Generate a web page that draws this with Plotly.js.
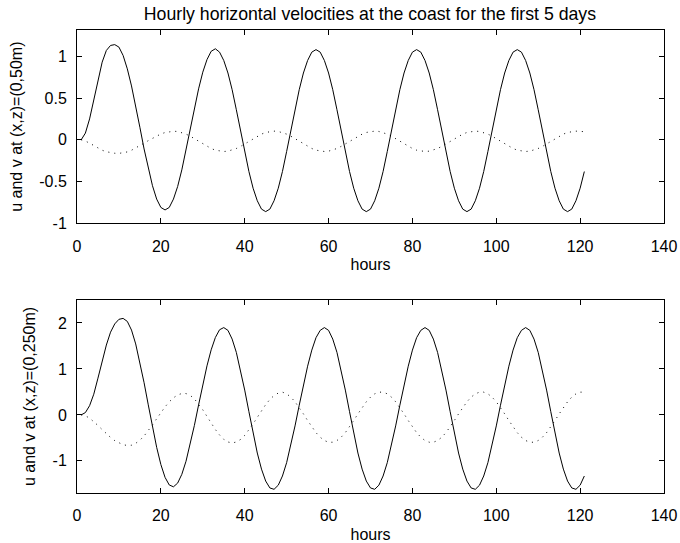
<!DOCTYPE html>
<html>
<head>
<meta charset="utf-8">
<script src="https://cdn.plot.ly/plotly-3.0.1.min.js"></script>
<style>html,body{margin:0;padding:0;background:#fff;}#chart{width:680px;height:543px;}</style>
</head>
<body>
<div id="chart"></div>
<script>
// hourly output index (hours 1..121)
var hours = [];
for (var h = 1; h <= 121; h++) hours.push(h);

// top panel: (x,z) = (0,50m)
var uTop = [0.00,0.08,0.25,0.48,0.72,0.93,1.07,1.13,1.14,1.11,
1.01,0.85,0.645,0.41,0.15,-0.11,-0.345,-0.55,-0.71,-0.81,
-0.84,-0.81,-0.71,-0.56,-0.36,-0.12,0.125,0.375,0.61,0.81,
0.96,1.06,1.09,1.05,0.95,0.80,0.60,0.36,0.11,-0.14,
-0.38,-0.58,-0.73,-0.83,-0.86,-0.83,-0.73,-0.58,-0.38,-0.14,
0.11,0.36,0.60,0.80,0.95,1.05,1.08,1.05,0.95,0.80,
0.60,0.36,0.11,-0.14,-0.38,-0.58,-0.73,-0.83,-0.86,-0.83,
-0.73,-0.58,-0.38,-0.14,0.11,0.36,0.60,0.80,0.95,1.05,
1.08,1.05,0.95,0.80,0.60,0.36,0.11,-0.14,-0.38,-0.58,
-0.73,-0.83,-0.86,-0.83,-0.73,-0.58,-0.38,-0.14,0.11,0.36,
0.60,0.80,0.95,1.05,1.08,1.05,0.95,0.80,0.60,0.36,
0.11,-0.14,-0.38,-0.58,-0.73,-0.83,-0.86,-0.83,-0.73,-0.58,
-0.38];

var vTop = [0,-0.015,-0.04,-0.07,-0.10,-0.125,-0.143,-0.155,-0.161,-0.163,
-0.158,-0.145,-0.125,-0.10,-0.07,-0.04,-0.01,0.02,0.047,0.07,
0.087,0.097,0.102,0.100,0.088,0.068,0.043,0.014,-0.018,-0.050,
-0.079,-0.104,-0.124,-0.136,-0.140,-0.136,-0.124,-0.104,-0.079,-0.050,
-0.018,0.014,0.043,0.068,0.088,0.100,0.104,0.100,0.088,0.068,
0.043,0.014,-0.018,-0.050,-0.079,-0.104,-0.124,-0.136,-0.140,-0.136,
-0.124,-0.104,-0.079,-0.050,-0.018,0.014,0.043,0.068,0.088,0.100,
0.104,0.100,0.088,0.068,0.043,0.014,-0.018,-0.050,-0.079,-0.104,
-0.124,-0.136,-0.140,-0.136,-0.124,-0.104,-0.079,-0.050,-0.018,0.014,
0.043,0.068,0.088,0.100,0.104,0.100,0.088,0.068,0.043,0.014,
-0.018,-0.050,-0.079,-0.104,-0.124,-0.136,-0.140,-0.136,-0.124,-0.104,
-0.079,-0.050,-0.018,0.014,0.043,0.068,0.088,0.100,0.104,0.100,
0.098];

// bottom panel: (x,z) = (0,250m)
var uBot = [0,0.05,0.20,0.45,0.80,1.18,1.52,1.80,1.98,2.08,
2.10,2.035,1.846,1.544,1.155,0.700,0.218,-0.264,-0.706,-1.081,
-1.360,-1.525,-1.565,-1.485,-1.294,-1.009,-0.644,-0.228,0.217,0.657,
1.067,1.416,1.684,1.853,1.90,1.84,1.65,1.36,0.98,0.54,
0.07,-0.40,-0.83,-1.18,-1.44,-1.59,-1.62,-1.53,-1.33,-1.04,
-0.67,-0.24,0.21,0.65,1.06,1.41,1.68,1.84,1.90,1.84,
1.65,1.36,0.98,0.54,0.07,-0.40,-0.83,-1.18,-1.44,-1.59,
-1.62,-1.53,-1.33,-1.04,-0.67,-0.24,0.21,0.65,1.06,1.41,
1.68,1.84,1.90,1.84,1.65,1.36,0.98,0.54,0.07,-0.40,
-0.83,-1.18,-1.44,-1.59,-1.62,-1.53,-1.33,-1.04,-0.67,-0.24,
0.21,0.65,1.06,1.41,1.68,1.84,1.90,1.84,1.65,1.36,
0.98,0.54,0.07,-0.40,-0.83,-1.18,-1.44,-1.59,-1.62,-1.53,
-1.33];

var vBot = [0,-0.02,-0.07,-0.14,-0.23,-0.32,-0.41,-0.49,-0.56,-0.61,
-0.65,-0.665,-0.66,-0.619,-0.552,-0.458,-0.345,-0.218,-0.084,0.049,
0.174,0.284,0.372,0.434,0.466,0.465,0.425,0.349,0.241,0.111,
-0.033,-0.180,-0.318,-0.438,-0.531,-0.590,-0.61,-0.591,-0.535,-0.446,
-0.331,-0.197,-0.053,0.091,0.223,0.336,0.422,0.475,0.495,0.458,
0.386,0.285,0.161,0.022,-0.122,-0.261,-0.386,-0.486,-0.558,-0.595,
-0.595,-0.558,-0.486,-0.386,-0.261,-0.122,0.022,0.161,0.285,0.386,
0.458,0.495,0.495,0.458,0.386,0.285,0.161,0.022,-0.122,-0.261,
-0.386,-0.486,-0.558,-0.595,-0.595,-0.558,-0.486,-0.386,-0.261,-0.122,
0.022,0.161,0.285,0.386,0.458,0.495,0.495,0.458,0.386,0.285,
0.161,0.022,-0.122,-0.261,-0.386,-0.486,-0.558,-0.595,-0.595,-0.558,
-0.486,-0.386,-0.261,-0.122,0.022,0.161,0.285,0.386,0.458,0.495,
0.495];

var xTicks = [0,20,40,60,80,100,120,140];
var yTicksTop = [-1,-0.5,0,0.5,1];
var yTicksBot = [-1,0,1,2];

var titleText = 'Hourly horizontal velocities at the coast for the first 5 days';
var xLabel = 'hours';
var yLabelTop = 'u and v at (x,z)=(0,50m)';
var yLabelBot = 'u and v at (x,z)=(0,250m)';

var FONT = 'Liberation Sans, Arial, Helvetica, sans-serif';

var solid = {color:'#000', width:1};
var dotted = {color:'#000', width:1, dash:'1px,5px'};

var data = [
  {x:hours, y:uTop, type:'scatter', mode:'lines', line:solid, xaxis:'x', yaxis:'y', hoverinfo:'skip'},
  {x:hours, y:vTop, type:'scatter', mode:'lines', line:dotted, xaxis:'x', yaxis:'y', hoverinfo:'skip'},
  {x:hours, y:uBot, type:'scatter', mode:'lines', line:solid, xaxis:'x2', yaxis:'y2', hoverinfo:'skip'},
  {x:hours, y:vBot, type:'scatter', mode:'lines', line:dotted, xaxis:'x2', yaxis:'y2', hoverinfo:'skip'}
];

function xax(anchor){
  return {
    anchor:anchor, range:[0,140], tickvals:xTicks, ticktext:xTicks.map(String),
    ticks:'inside', ticklen:5, tickcolor:'#000', tickwidth:1,
    showline:true, linecolor:'#000', linewidth:1, mirror:'ticks',
    showgrid:false, zeroline:false,
    tickfont:{family:FONT, size:16, color:'#000'},
    ticklabelstandoff:8,
    title:{text:xLabel, font:{family:FONT, size:16, color:'#000'}, standoff:5}
  };
}
function yax(anchor, domain, range, ticks, label){
  return {
    anchor:anchor, domain:domain, range:range, tickvals:ticks, ticktext:ticks.map(String),
    ticks:'inside', ticklen:5, tickcolor:'#000', tickwidth:1,
    showline:true, linecolor:'#000', linewidth:1, mirror:'ticks',
    showgrid:false, zeroline:false,
    tickfont:{family:FONT, size:16, color:'#000'},
    ticklabelstandoff:6,
    title:{text:label, font:{family:FONT, size:16, color:'#000'}, standoff:12}
  };
}

var layout = {
  width:680, height:543,
  margin:{l:77, r:16, t:30, b:50, pad:0},
  paper_bgcolor:'#fff', plot_bgcolor:'#fff',
  showlegend:false,
  title:{text:titleText, font:{family:FONT, size:17.7, color:'#000'}, x:0.544, xanchor:'center', y:0.975, yanchor:'middle'},
  xaxis:xax('y'),
  yaxis:yax('x', [0.5825,1], [-1,1.315], yTicksTop, yLabelTop),
  xaxis2:xax('y2'),
  yaxis2:yax('x2', [0,0.4168], [-1.7,2.5], yTicksBot, yLabelBot)
};

Plotly.newPlot('chart', data, layout, {staticPlot:true, displayModeBar:false});
</script>
</body>
</html>
